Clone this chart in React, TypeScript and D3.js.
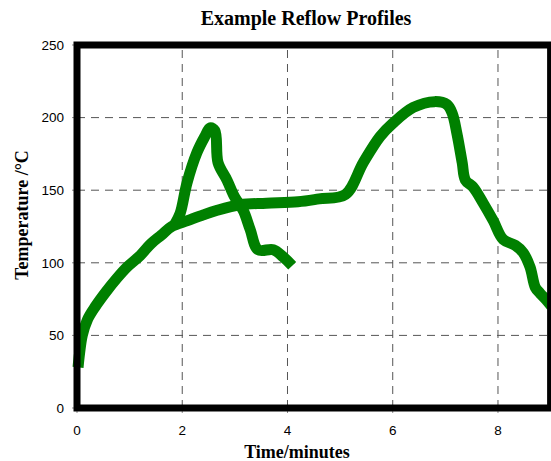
import React from "react";
import * as d3 from "d3";

const W = 551;
const H = 461;

const xTicks = [0, 2, 4, 6, 8];
const yTicks = [0, 50, 100, 150, 200, 250];
const xGrid = [2, 4, 6, 8];
const yGrid = [50, 100, 150, 200];

// Long profile: [time (min), temperature (°C)]
const profileLong: [number, number][] = [
  [0.02, 28], [0.05, 38], [0.1, 50], [0.2, 61], [0.35, 70], [0.55, 80], [0.75, 89],
  [0.95, 97], [1.2, 105], [1.4, 113], [1.6, 119], [1.8, 125], [2.1, 129],
  [2.4, 133], [2.65, 136], [3.1, 140], [3.6, 141], [4.2, 142], [4.6, 144],
  [5.1, 147], [5.44, 169], [5.76, 187], [6.0, 196], [6.39, 207], [6.8, 211],
  [7.03, 209], [7.13, 203], [7.22, 189], [7.32, 169], [7.38, 157], [7.53, 152],
  [7.72, 141], [7.91, 129], [8.1, 116], [8.33, 112], [8.48, 107], [8.61, 97],
  [8.71, 83], [8.8, 79], [8.93, 74], [9.02, 70],
];

// Short profile (spike), branching off the long one
const profileShort: [number, number][] = [
  [1.85, 126], [1.96, 134], [2.09, 155], [2.28, 176], [2.43, 187], [2.53, 193],
  [2.62, 191], [2.68, 169], [2.85, 157], [3.0, 145], [3.16, 136], [3.29, 123],
  [3.44, 109], [3.73, 109], [3.92, 104], [4.09, 98],
];

const x = d3.scaleLinear().domain([0, 9]).range([77, 550.6]);
const y = d3.scaleLinear().domain([0, 250]).range([408, 45]);

const line = d3
  .line<[number, number]>()
  .x((d) => x(d[0]))
  .y((d) => y(d[1]))
  .curve(d3.curveCatmullRom.alpha(0.5));

export default function App() {
  const serif = "'Liberation Serif', 'Times New Roman', serif";
  const sans = "'Liberation Sans', Arial, sans-serif";
  const x0 = x(0);
  const x1 = x(9);
  const y0 = y(0);
  const y1 = y(250);
  return (
    <div style={{ position: "absolute", left: 0, top: 0 }}>
      <svg width={W} height={H} style={{ display: "block", background: "#fff" }}>
        <text x={306} y={25} textAnchor="middle" fontFamily={serif} fontWeight="bold" fontSize={20}>
          Example Reflow Profiles
        </text>
        {/* grid */}
        {yGrid.map((v) => (
          <line key={"gy" + v} x1={x0} x2={x1} y1={y(v)} y2={y(v)} stroke="#555" strokeWidth={1} strokeDasharray="8,6" />
        ))}
        {xGrid.map((v) => (
          <line key={"gx" + v} x1={x(v)} x2={x(v)} y1={y0} y2={y1} stroke="#555" strokeWidth={1} strokeDasharray="8,6" />
        ))}
        {/* ticks */}
        {yTicks.map((v) => (
          <line key={"ty" + v} x1={x0 - 5} x2={x0} y1={y(v)} y2={y(v)} stroke="#888" strokeWidth={1} />
        ))}
        {xTicks.map((v) => (
          <line key={"tx" + v} x1={x(v)} x2={x(v)} y1={y0} y2={y0 + 5} stroke="#888" strokeWidth={1} />
        ))}
        {/* data */}
        <path d={line(profileLong) ?? ""} fill="none" stroke="#008000" strokeWidth={11} strokeLinejoin="round" strokeLinecap="butt" />
        <path d={line(profileShort) ?? ""} fill="none" stroke="#008000" strokeWidth={11} strokeLinejoin="round" strokeLinecap="butt" />
        {/* border */}
        <rect x={x0} y={y1} width={x1 - x0} height={y0 - y1} fill="none" stroke="#000" strokeWidth={7} />
        {/* tick labels */}
        {yTicks.map((v) => (
          <text key={"ly" + v} x={64} y={y(v)} dy="0.36em" textAnchor="end" fontFamily={sans} fontSize={13.5}>
            {v}
          </text>
        ))}
        {xTicks.map((v) => (
          <text key={"lx" + v} x={x(v)} y={435} textAnchor="middle" fontFamily={sans} fontSize={13.5}>
            {v}
          </text>
        ))}
        <text x={297} y={458} textAnchor="middle" fontFamily={serif} fontWeight="bold" fontSize={18}>
          Time/minutes
        </text>
        <text
          transform={`translate(28, 215) rotate(-90)`}
          textAnchor="middle"
          fontFamily={serif}
          fontWeight="bold"
          fontSize={18}
        >
          Temperature /°C
        </text>
      </svg>
    </div>
  );
}
